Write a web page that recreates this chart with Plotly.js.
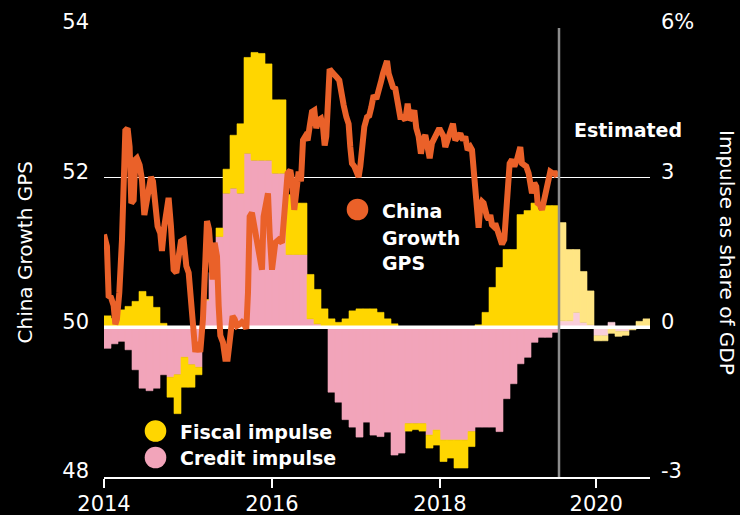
<!DOCTYPE html>
<html><head><meta charset="utf-8">
<script src="https://cdn.plot.ly/plotly-3.0.1.min.js"></script>
<style>html,body{margin:0;padding:0;background:#000;} #chart{width:740px;height:515px;}</style>
</head><body><div id="chart"></div>
<script>
// ---- data ----
const startYear = 2014; // monthly bars, Jan 2014 .. Jun 2020
const fiscalImpulse = [
  0.23,0.18,0.35,0.42,0.52,0.72,0.62,0.40,0.08,-0.40,-0.78,-0.60,
  -0.45,-0.15,0.00,0.00,0.17,0.48,1.06,1.39,1.92,2.16,2.14,1.93,
  1.47,1.47,1.20,1.03,1.03,0.89,0.69,0.37,0.17,0.10,0.17,0.33,
  0.37,0.37,0.37,0.30,0.17,0.07,0.00,-0.15,-0.12,-0.15,-0.26,-0.30,
  -0.43,-0.36,-0.56,-0.56,-0.30,0.05,0.30,0.80,1.20,1.56,1.56,2.26,
  2.34,2.49,2.36,2.44,2.44,1.97,1.43,1.26,1.02,0.68,-0.10,-0.10,
  -0.12,-0.10,-0.08,-0.05,0.12,0.17];
const creditImpulse = [
  -0.42,-0.33,-0.28,-0.45,-0.85,-1.22,-1.27,-1.22,-0.95,-1.00,-0.95,-0.60,
  -0.75,-0.80,0.55,1.10,1.82,2.69,2.79,2.69,3.49,3.35,3.35,3.35,
  3.09,3.09,1.46,1.46,1.46,0.17,0.07,0.00,-1.30,-1.50,-1.85,-2.00,
  -2.20,-1.90,-2.16,-2.19,-2.10,-2.56,-2.52,-1.93,-1.93,-1.93,-2.16,-2.06,
  -2.26,-2.26,-2.26,-2.26,-2.09,-2.00,-2.00,-2.00,-2.09,-1.43,-1.13,-0.73,
  -0.60,-0.30,-0.20,-0.20,-0.10,0.13,0.13,0.30,0.10,0.05,-0.17,-0.17,
  0.10,-0.08,-0.08,0.00,0.00,0.00];
const estimatedFromMonth = 65; // June 2019 onward is estimated

const gpsYears = [
  2014.000,2014.035,2014.055,2014.083,2014.115,2014.135,2014.154,2014.182,2014.214,2014.234,
  2014.254,2014.281,2014.305,2014.325,2014.353,2014.373,2014.392,2014.424,2014.452,2014.480,
  2014.504,2014.531,2014.559,2014.583,2014.611,2014.638,2014.670,2014.690,2014.718,2014.750,
  2014.769,2014.797,2014.829,2014.861,2014.888,2014.916,2014.948,2014.980,2015.008,2015.027,
  2015.047,2015.067,2015.087,2015.115,2015.146,2015.178,2015.206,2015.226,2015.250,2015.273,
  2015.293,2015.317,2015.345,2015.365,2015.385,2015.416,2015.444,2015.472,2015.504,2015.531,
  2015.555,2015.583,2015.615,2015.642,2015.670,2015.694,2015.714,2015.734,2015.761,2015.789,
  2015.821,2015.853,2015.881,2015.900,2015.928,2015.952,2015.972,
  2016.000,2016.039,2016.079,2016.119,2016.158,2016.186,2016.218,2016.238,2016.265,2016.289,
  2016.317,2016.345,2016.369,2016.396,2016.424,2016.448,2016.476,2016.504,2016.527,2016.555,
  2016.583,2016.607,2016.627,2016.646,2016.662,2016.686,2016.714,2016.742,2016.773,2016.801,
  2016.821,2016.853,2016.885,2016.912,2016.932,2016.952,2016.980,2017.004,2017.031,2017.051,
  2017.071,2017.099,2017.131,2017.158,2017.182,2017.210,2017.242,2017.269,2017.297,2017.321,
  2017.349,2017.369,2017.389,2017.408,2017.440,2017.468,2017.496,2017.527,2017.559,2017.587,
  2017.615,2017.638,2017.666,2017.694,2017.718,2017.746,2017.773,2017.797,2017.825,2017.853,
  2017.877,2017.904,2017.932,2017.964,2017.992,
  2018.004,2018.043,2018.063,2018.091,2018.123,2018.154,2018.182,2018.210,2018.242,2018.273,
  2018.301,2018.329,2018.361,2018.381,2018.400,2018.420,2018.440,2018.460,2018.480,2018.500,
  2018.519,2018.539,2018.559,2018.579,2018.599,2018.619,2018.638,2018.658,2018.678,2018.698,
  2018.718,2018.738,2018.765,2018.789,2018.805,2018.829,2018.857,2018.885,2018.916,2018.936,
  2018.956,2018.976,2019.004,2019.027,2019.055,2019.075,2019.095,2019.123,2019.146,2019.162,
  2019.186,2019.214,2019.242,2019.265,2019.293,2019.313,2019.341,2019.373,2019.393];
const gpsValues = [
  51.24,51.08,50.42,50.40,50.29,50.04,50.11,50.46,51.17,52.06,
  52.63,52.66,52.41,51.66,51.70,52.24,52.26,52.17,51.97,51.50,
  51.64,51.88,52.01,51.95,51.64,51.35,51.26,51.02,51.35,51.62,
  51.73,51.35,50.77,50.73,51.00,51.15,51.17,50.82,50.73,50.44,
  50.15,49.73,49.67,49.80,49.67,50.11,50.95,51.42,51.31,50.77,
  50.64,51.13,50.95,50.29,49.89,49.80,49.58,49.58,49.85,50.15,
  50.11,50.02,50.04,50.07,50.04,49.98,50.46,51.48,51.53,51.35,
  51.22,50.91,50.77,51.48,51.70,51.79,51.26,
  50.77,51.13,51.17,51.13,51.62,52.06,52.10,51.97,51.57,51.88,
  52.08,51.95,52.50,52.55,52.50,52.68,52.88,52.90,52.66,52.77,
  52.79,52.68,52.43,52.55,53.03,53.45,53.41,53.36,53.34,53.30,
  53.12,52.97,52.81,52.72,52.41,52.19,52.15,52.10,52.01,52.15,
  52.50,52.68,52.81,52.83,52.94,53.10,53.05,53.21,53.28,53.39,
  53.54,53.56,53.39,53.34,53.21,53.19,52.97,52.81,52.81,52.77,
  52.99,52.77,52.81,52.90,52.66,52.55,52.32,52.50,52.57,52.41,
  52.26,52.46,52.52,52.59,52.66,
  52.63,52.55,52.41,52.50,52.66,52.72,52.50,52.55,52.59,52.50,
  52.55,52.37,52.41,52.37,52.06,51.75,51.37,51.33,51.62,51.68,
  51.66,51.53,51.48,51.44,51.50,51.37,51.35,51.39,51.33,51.26,
  51.17,51.11,51.17,51.62,52.06,52.19,52.24,52.15,52.24,52.37,
  52.41,52.19,52.17,52.15,52.06,51.84,51.79,51.93,51.88,51.66,
  51.64,51.57,51.73,51.77,51.97,52.08,52.06,52.06,52.01];

const gpsTicks = [48, 50, 52, 54];
const impulseTicks = [-3, 0, 3, 6];
const impulseTickText = ['-3', '0', '3', '6%'];
const xTickLabels = ['2014', '2016', '2018', '2020'];
const xTickPositions = [2014, 2016, 2018, 2019.86];

// ---- styling ----
const COL = {
  fiscal: '#FFD600', fiscalEst: '#FFE584',
  credit: '#F2A4BA', creditEst: '#F9CEDA',
  gps: '#EA6129', grid: '#FFFFFF', est: '#8C8C8C'
};
const FONT = 'DejaVu Sans';

const barX = fiscalImpulse.map((_, i) => startYear + (i + 0.5) / 12);
const isEst = i => i >= estimatedFromMonth;
const fiscalColors = fiscalImpulse.map((_, i) => isEst(i) ? COL.fiscalEst : COL.fiscal);
const creditColors = creditImpulse.map((_, i) => isEst(i) ? COL.creditEst : COL.credit);
const xEnd = startYear + fiscalImpulse.length / 12;
const estX = startYear + estimatedFromMonth / 12;

const traces = [
  {type: 'bar', x: barX, y: creditImpulse, width: 1/12, yaxis: 'y', name: 'Credit impulse',
   marker: {color: creditColors, line: {color: creditColors, width: 0.6}}},
  {type: 'bar', x: barX, y: fiscalImpulse, width: 1/12, yaxis: 'y', name: 'Fiscal impulse',
   marker: {color: fiscalColors, line: {color: fiscalColors, width: 0.6}}},
  {type: 'scatter', mode: 'lines', x: [startYear, xEnd], y: [0, 0], yaxis: 'y',
   line: {color: COL.grid, width: 3.5}, hoverinfo: 'skip'},
  {type: 'scatter', mode: 'lines', x: gpsYears, y: gpsValues, yaxis: 'y2', name: 'China Growth GPS',
   line: {color: COL.gps, width: 6}}
];

const L = 104, R = 90, T = 28, B = 38, W = 740, H = 515;
const pw = W - L - R, ph = H - T - B;
const px = v => (v - L) / pw;
const py = v => (H - B - v) / ph;

const tickFont = {family: FONT, size: 21, color: '#FFFFFF'};
const boldFont = {family: FONT, size: 19, color: '#FFFFFF', weight: 'bold'};

function dot(cx, cy, color) {
  return {type: 'circle', xref: 'paper', yref: 'paper', xsizemode: 'pixel', ysizemode: 'pixel',
    xanchor: px(cx), yanchor: py(cy), x0: -10.8, x1: 10.8, y0: -10.8, y1: 10.8,
    fillcolor: color, line: {width: 0}, layer: 'above'};
}
function label(text, x, y, font, extra) {
  return Object.assign({xref: 'paper', yref: 'paper', x: px(x), y: py(y), text: text,
    showarrow: false, xanchor: 'left', yanchor: 'middle', font: font}, extra || {});
}

const layout = {
  width: W, height: H,
  margin: {l: L, r: R, t: T, b: B, pad: 0},
  paper_bgcolor: '#000000', plot_bgcolor: '#000000',
  showlegend: false, barmode: 'relative', bargap: 0,
  xaxis: {range: [startYear, xEnd], tickvals: xTickPositions, ticktext: xTickLabels,
    ticks: 'outside', ticklen: 9, tickwidth: 1.5, tickcolor: '#FFFFFF',
    showline: true, linecolor: '#FFFFFF', linewidth: 1.5, showgrid: false, zeroline: false,
    tickfont: tickFont, ticklabelstandoff: -2, fixedrange: true},
  yaxis: {side: 'right', range: [-3, 6], tickvals: impulseTicks, ticktext: impulseTickText,
    showgrid: true, gridcolor: COL.grid, gridwidth: 1.5, zeroline: false, ticks: '',
    ticklabelshift: -6, ticklabelstandoff: 10, tickfont: tickFont, fixedrange: true},
  yaxis2: {overlaying: 'y', side: 'left', range: [48, 54], tickvals: gpsTicks,
    showgrid: false, zeroline: false, ticks: '',
    ticklabelshift: -6, ticklabelstandoff: 14, tickfont: tickFont, fixedrange: true},
  shapes: [
    {type: 'line', xref: 'x', yref: 'paper', x0: estX, x1: estX, y0: 0, y1: 1,
     line: {color: COL.est, width: 2.5}, layer: 'above'},
    dot(357.5, 209.5, COL.gps),
    dot(155.5, 431, COL.fiscal),
    dot(155.5, 457.5, COL.credit)
  ],
  annotations: [
    label('China', 380, 211, boldFont),
    label('Growth', 380, 237.5, boldFont),
    label('GPS', 380, 263, boldFont),
    label('Fiscal impulse', 178, 432, boldFont),
    label('Credit impulse', 178, 458, boldFont),
    label('Estimated', 572, 130, boldFont),
    label('China Growth GPS', 24, 252.5, {family: FONT, size: 20, color: '#FFFFFF'},
      {xanchor: 'center', textangle: -90}),
    label('Impulse as share of GDP', 727, 252, {family: FONT, size: 20, color: '#FFFFFF'},
      {xanchor: 'center', textangle: 90})
  ]
};

Plotly.newPlot('chart', traces, layout, {staticPlot: true, displayModeBar: false});
</script>
</body></html>
